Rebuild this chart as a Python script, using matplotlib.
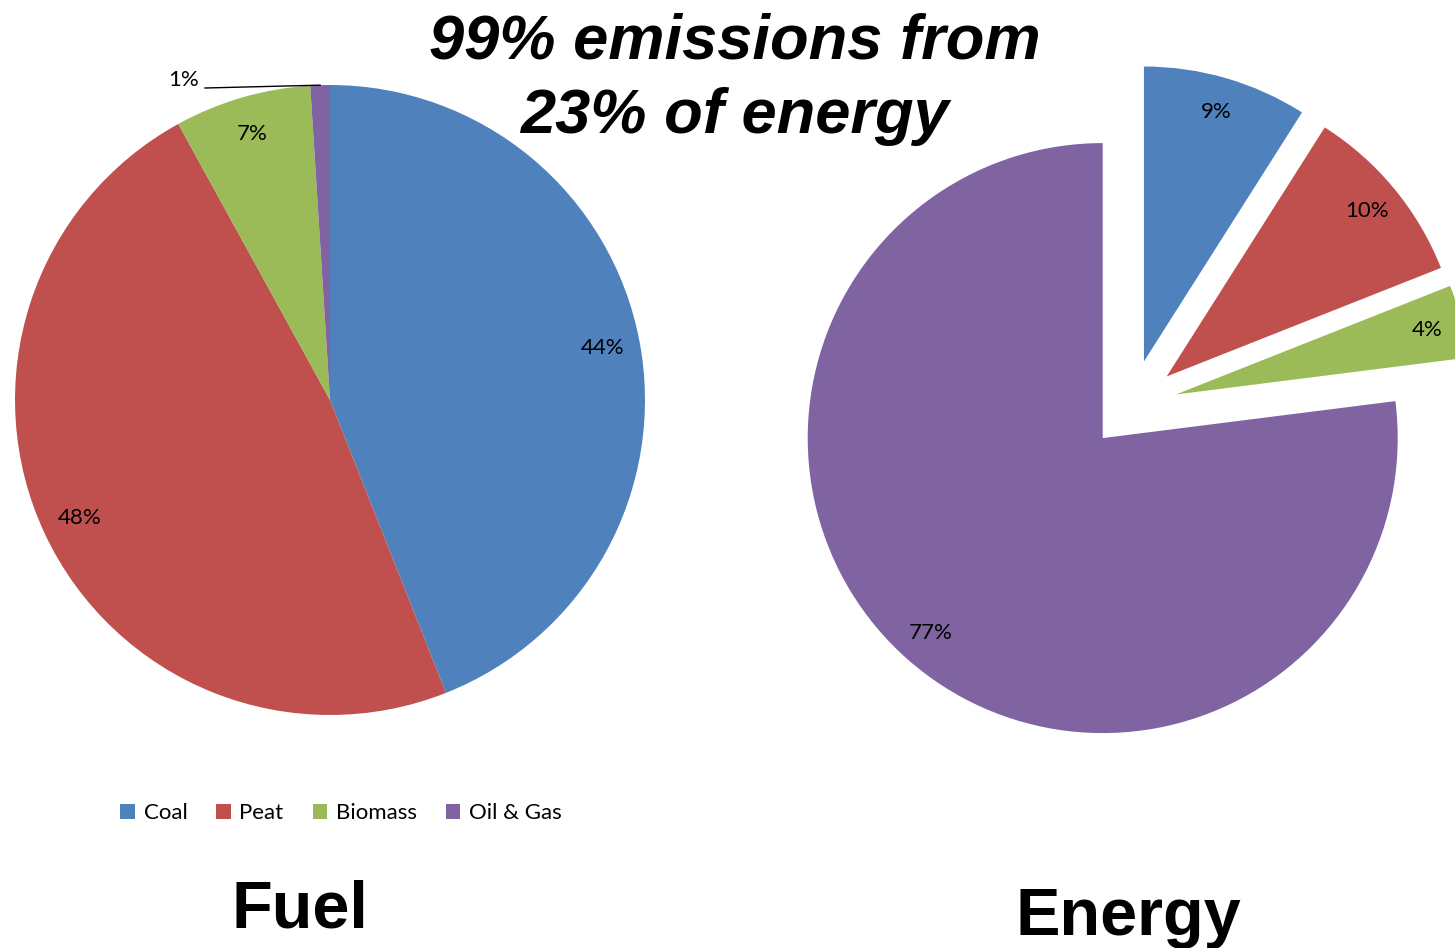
import numpy as np
import matplotlib.pyplot as plt
from matplotlib.patches import Patch

# emissions share by fuel, and share of energy supplied
fuel_labels = ["Coal", "Peat", "Biomass", "Oil & Gas"]
fuel_share = [44, 48, 7, 1]
energy_share = [9, 10, 4, 77]

colors = ["#4F81BD", "#C0504D", "#9BBB59", "#8064A2"]
W, H = 1455, 948

plt.rcParams['font.family'] = ['Lato', 'DejaVu Sans']

fig = plt.figure(figsize=(W / 100, H / 100), dpi=100)
ax = fig.add_axes([0, 0, 1, 1])

# left pie (fuel)
rl = 315
wl, _, tl = ax.pie(fuel_share, colors=colors, startangle=90, counterclock=False,
                   center=(330, H - 400), radius=rl, autopct="%.0f%%",
                   pctdistance=0.88, textprops=dict(fontsize=16, color="black"),
                   wedgeprops=dict(linewidth=0))

# tiny slice: label pulled outside with a leader line
small = wl[3]
ang = np.deg2rad((small.theta1 + small.theta2) / 2)
ex = 330 + rl * np.cos(ang)
ey = H - 400 + rl * np.sin(ang)
tl[3].set_position((184, H - 80))
ax.plot([205, ex], [H - 88, ey], color="black", lw=1)

# right pie (energy), all slices pulled apart
rr = 295
wr, _, tr = ax.pie(energy_share, colors=colors, startangle=90, counterclock=False,
                   center=(1131, H - 406), radius=rr, autopct="%.0f%%",
                   pctdistance=0.88, explode=[0.157 * rr] * 3 + [0.145 * rr],
                   textprops=dict(fontsize=16, color="black"),
                   wedgeprops=dict(linewidth=0))

ax.set_xlim(0, W)
ax.set_ylim(0, H)
ax.set_aspect("equal")
ax.axis("off")

title_kw = dict(ha="center", va="baseline", fontsize=45.5, fontweight="bold",
                fontstyle="italic", family=["Liberation Sans", "DejaVu Sans"])
ax.text(735, H - 58, "99% emissions from", **title_kw)
ax.text(735, H - 133, "23% of energy", **title_kw)

sub_kw = dict(ha="center", va="baseline", fontsize=48, fontweight="bold",
              family=["Liberation Sans", "DejaVu Sans"])
ax.text(300, H - 928, "Fuel", **sub_kw)
ax.text(1128, H - 935, "Energy", **sub_kw)

handles = [Patch(facecolor=c, edgecolor="none", label=l) for c, l in zip(colors, fuel_labels)]
fig.legend(handles=handles, loc="center", bbox_to_anchor=(341 / W, 1 - 813 / H),
           ncol=4, frameon=False, fontsize=16, handlelength=0.65, handleheight=0.65,
           handletextpad=0.4, columnspacing=1.3)

fig.savefig("out.png", dpi=100)
